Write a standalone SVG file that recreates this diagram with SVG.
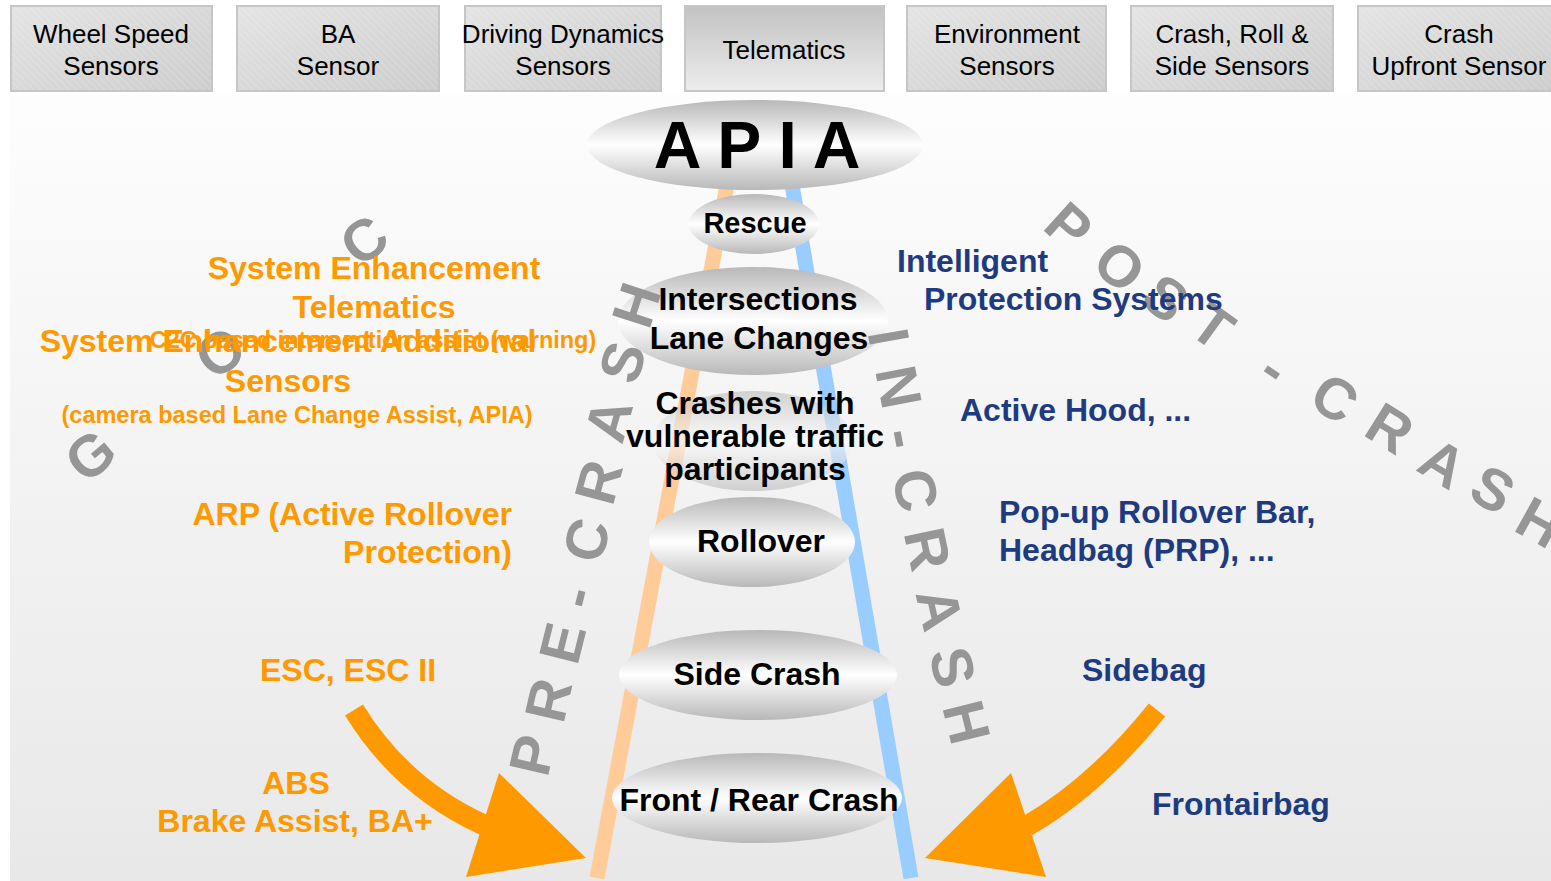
<svg xmlns="http://www.w3.org/2000/svg" width="1551" height="881" viewBox="0 0 1551 881">
<defs>
<linearGradient id="bg" x1="0" y1="0" x2="0" y2="1"><stop offset="0" stop-color="#fdfdfd"/><stop offset="1" stop-color="#e8e8e8"/></linearGradient>
<linearGradient id="boxg" x1="0" y1="0" x2="1" y2="1"><stop offset="0" stop-color="#e4e4e4"/><stop offset="1" stop-color="#cdcdcd"/></linearGradient>
<linearGradient id="telg" x1="0" y1="0" x2="0" y2="1"><stop offset="0" stop-color="#c2c2c2"/><stop offset="1" stop-color="#ededed"/></linearGradient>
<pattern id="hatch" width="5" height="5" patternUnits="userSpaceOnUse" patternTransform="rotate(-45)"><line x1="0" y1="0" x2="0" y2="5" stroke="#ffffff" stroke-opacity="0.35" stroke-width="1"/></pattern>
<linearGradient id="ellg" x1="0" y1="0" x2="0" y2="1"><stop offset="0" stop-color="#b8b8b8"/><stop offset="0.5" stop-color="#ffffff"/><stop offset="1" stop-color="#b8b8b8"/></linearGradient>
<style>
.box{fill:url(#boxg);stroke:#c6c6c6;stroke-width:2}
.hat{fill:url(#hatch)}
.ht{font-family:"Liberation Sans",Arial,sans-serif;font-size:26px;fill:#000;text-anchor:middle}
.ell{fill:url(#ellg)}
.et{font-family:"Liberation Sans",Arial,sans-serif;font-weight:bold;font-size:32px;fill:#000;text-anchor:middle}
.gl{font-family:"Liberation Sans",Arial,sans-serif;font-weight:bold;font-size:58px;fill:#969696;text-anchor:middle;dominant-baseline:central}
.or{font-family:"Liberation Sans",Arial,sans-serif;font-weight:bold;font-size:32px;fill:#ff9900}
.ors{font-family:"Liberation Sans",Arial,sans-serif;font-weight:bold;font-size:23.5px;fill:#ff9900}
.bl{font-family:"Liberation Sans",Arial,sans-serif;font-weight:bold;font-size:32px;fill:#1f3b80}
.arr{fill:none;stroke:#ff9900;stroke-width:21}
.ah{fill:#ff9900}
</style>
</defs>
<rect x="0" y="0" width="1551" height="881" fill="#ffffff"/>
<rect x="10" y="95" width="1541" height="786" fill="url(#bg)"/>

<g id="hdr-wheel"><rect class="box" x="11" y="6" width="201" height="85"/><rect class="hat" x="12" y="7" width="199" height="83"/><text class="ht" x="111" y="43">Wheel Speed</text><text class="ht" x="111" y="75">Sensors</text></g>
<g id="hdr-ba"><rect class="box" x="237" y="6" width="202" height="85"/><rect class="hat" x="238" y="7" width="200" height="83"/><text class="ht" x="338" y="43">BA</text><text class="ht" x="338" y="75">Sensor</text></g>
<g id="hdr-dyn"><rect class="box" x="465" y="6" width="196" height="85"/><rect class="hat" x="466" y="7" width="194" height="83"/><text class="ht" x="563" y="43">Driving Dynamics</text><text class="ht" x="563" y="75">Sensors</text></g>
<g id="hdr-tel"><rect x="685" y="6" width="199" height="85" fill="url(#telg)" stroke="#c6c6c6" stroke-width="2"/><text class="ht" x="784" y="59">Telematics</text></g>
<g id="hdr-env"><rect class="box" x="907" y="6" width="199" height="85"/><rect class="hat" x="908" y="7" width="197" height="83"/><text class="ht" x="1007" y="43">Environment</text><text class="ht" x="1007" y="75">Sensors</text></g>
<g id="hdr-crash"><rect class="box" x="1131" y="6" width="202" height="85"/><rect class="hat" x="1132" y="7" width="200" height="83"/><text class="ht" x="1232" y="43">Crash, Roll &amp;</text><text class="ht" x="1232" y="75">Side Sensors</text></g>
<g id="hdr-upfront"><rect class="box" x="1358" y="6" width="200" height="85"/><rect class="hat" x="1359" y="7" width="198" height="83"/><text class="ht" x="1459" y="43">Crash</text><text class="ht" x="1459" y="75">Upfront Sensor</text></g>

<g id="stripes">
<line x1="597" y1="878" x2="727" y2="185" stroke="#ffcc99" stroke-width="15"/>
<line x1="911" y1="878" x2="792" y2="185" stroke="#99ccff" stroke-width="15"/>
</g>

<g id="apia"><ellipse class="ell" cx="755" cy="145" rx="168" ry="45"/><text class="et" x="757" y="168" style="font-size:66px">A P I A</text></g>
<g id="rescue"><ellipse class="ell" cx="754" cy="224" rx="65" ry="30"/><text class="et" x="755" y="233" style="font-size:29px">Rescue</text></g>
<g id="intersections"><ellipse class="ell" cx="753" cy="321" rx="135" ry="54"/><text class="et" x="758" y="310">Intersections</text><text class="et" x="759" y="349">Lane Changes</text></g>
<g id="vulnerable"><ellipse class="ell" cx="753" cy="441" rx="100" ry="50" opacity="0.6"/><text class="et" x="755" y="414">Crashes with</text><text class="et" x="755" y="447">vulnerable traffic</text><text class="et" x="755" y="480">participants</text></g>
<g id="rollover"><ellipse class="ell" cx="752" cy="542" rx="103" ry="45"/><text class="et" x="761" y="552">Rollover</text></g>
<g id="sidecrash"><ellipse class="ell" cx="758" cy="675" rx="139" ry="45"/><text class="et" x="757" y="685">Side Crash</text></g>
<g id="frontcrash"><ellipse class="ell" cx="757" cy="798" rx="145" ry="45"/><text class="et" x="759" y="811">Front / Rear Crash</text></g>

<g id="phase-labels">
<text class="gl" transform="translate(532,755) rotate(-77)">P</text>
<text class="gl" transform="translate(548,700) rotate(-77)">R</text>
<text class="gl" transform="translate(562,643) rotate(-76)">E</text>
<text class="gl" transform="translate(575,597) rotate(-76)">-</text>
<text class="gl" transform="translate(586,540) rotate(-75)">C</text>
<text class="gl" transform="translate(598,482) rotate(-75)">R</text>
<text class="gl" transform="translate(608,420) rotate(-74)">A</text>
<text class="gl" transform="translate(622,362) rotate(-73)">S</text>
<text class="gl" transform="translate(636,305) rotate(-72)">H</text>

<text class="gl" transform="translate(889,337) rotate(80)">I</text>
<text class="gl" transform="translate(899,387) rotate(79)">N</text>
<text class="gl" transform="translate(904,438) rotate(79)">-</text>
<text class="gl" transform="translate(916,490) rotate(78)">C</text>
<text class="gl" transform="translate(928,549) rotate(78)">R</text>
<text class="gl" transform="translate(940,609) rotate(77)">A</text>
<text class="gl" transform="translate(953,667) rotate(77)">S</text>
<text class="gl" transform="translate(967,722) rotate(76)">H</text>

<text class="gl" transform="translate(1069,226) rotate(42)">P</text>
<text class="gl" transform="translate(1120,266) rotate(40)">O</text>
<text class="gl" transform="translate(1166,298) rotate(38)">S</text>
<text class="gl" transform="translate(1213,326) rotate(36)">T</text>
<text class="gl" transform="translate(1275,368) rotate(34)">-</text>
<text class="gl" transform="translate(1335,398) rotate(33)">C</text>
<text class="gl" transform="translate(1390,428) rotate(32)">R</text>
<text class="gl" transform="translate(1443,463) rotate(31)">A</text>
<text class="gl" transform="translate(1493,489) rotate(30)">S</text>
<text class="gl" transform="translate(1540,522) rotate(29)">H</text>

<text class="gl" transform="translate(90,455) rotate(-40)">G</text>
<text class="gl" transform="translate(220,352) rotate(-39)">O</text>
<text class="gl" transform="translate(364,240) rotate(-38)">C</text>
</g>

<g id="left-labels">
<text class="or" x="374" y="279" text-anchor="middle">System Enhancement</text>
<text class="or" x="374" y="318" text-anchor="middle">Telematics</text>
<text class="or" x="288" y="352" text-anchor="middle">System Enhancement Additional</text>
<text class="ors" x="373" y="348" text-anchor="middle">C2C based intersection assist (warning)</text>
<text class="or" x="288" y="392" text-anchor="middle">Sensors</text>
<text class="ors" x="297" y="423" text-anchor="middle">(camera based Lane Change Assist, APIA)</text>
<text class="or" x="512" y="525" text-anchor="end">ARP (Active Rollover</text>
<text class="or" x="512" y="563" text-anchor="end">Protection)</text>
<text class="or" x="348" y="681" text-anchor="middle">ESC, ESC II</text>
<text class="or" x="296" y="794" text-anchor="middle">ABS</text>
<text class="or" x="295" y="832" text-anchor="middle">Brake Assist, BA+</text>
</g>

<g id="right-labels">
<text class="bl" x="897" y="272">Intelligent</text>
<text class="bl" x="924" y="310">Protection Systems</text>
<text class="bl" x="960" y="421">Active Hood, ...</text>
<text class="bl" x="999" y="523">Pop-up Rollover Bar,</text>
<text class="bl" x="999" y="561">Headbag (PRP), ...</text>
<text class="bl" x="1082" y="681">Sidebag</text>
<text class="bl" x="1152" y="815">Frontairbag</text>
</g>

<g id="connectors">
<path class="arr" d="M354,710 Q402,788 484,825"/>
<polygon class="ah" points="499,773 586,858 466,877"/>
<path class="arr" d="M1157,710 Q1095,787 1027,826"/>
<polygon class="ah" points="1011,773 925,858 1046,877"/>
</g>
</svg>
